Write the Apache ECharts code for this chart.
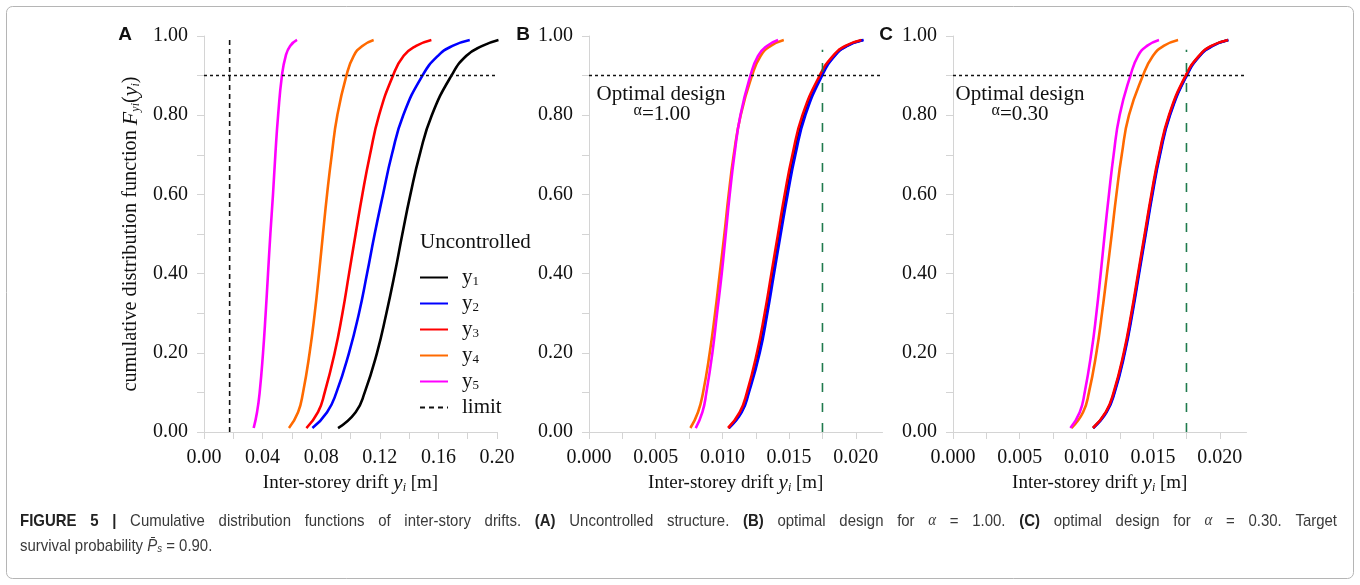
<!DOCTYPE html>
<html lang="en">
<head>
    <meta charset="UTF-8">
    <title>CDF of inter-storey drifts</title>
    <style>
        * { margin: 0; padding: 0; }
        body { background: #fff; }
        #myEcharts { width: 1360px; height: 585px; }
    </style>
</head>
<body>
    <div id="myEcharts"></div>
    <script src="https://cdn.jsdelivr.net/npm/echarts@6/dist/echarts.min.js"></script>
    <script>
        // probability levels the curves were read at
        var probLevels = [0.01, 0.05, 0.10, 0.20, 0.30, 0.40, 0.50, 0.60, 0.70, 0.80, 0.90, 0.95, 0.975, 0.99];

        // (A) uncontrolled
        var driftA_y1 = [0.0915, 0.1035, 0.1097, 0.1181, 0.1245, 0.1302, 0.1354, 0.1409, 0.1472, 0.1555, 0.1689, 0.1791, 0.1900, 0.2010];
        var driftA_y2 = [0.0740, 0.0840, 0.0904, 0.0990, 0.1058, 0.1113, 0.1165, 0.1222, 0.1282, 0.1360, 0.1491, 0.1597, 0.1696, 0.1814];
        var driftA_y3 = [0.0699, 0.0778, 0.0824, 0.0892, 0.0945, 0.0990, 0.1035, 0.1081, 0.1133, 0.1195, 0.1290, 0.1363, 0.1448, 0.1552];
        var driftA_y4 = [0.0580, 0.0642, 0.0676, 0.0721, 0.0756, 0.0785, 0.0812, 0.0840, 0.0872, 0.0910, 0.0972, 0.1022, 0.1081, 0.1158];
        var driftA_y5 = [0.0339, 0.0362, 0.0380, 0.0403, 0.0421, 0.0437, 0.0453, 0.0471, 0.0487, 0.0506, 0.0532, 0.0558, 0.0588, 0.0635];

        // (B) optimal design alpha = 1.00
        var driftB_y1 = [0.01047, 0.01140, 0.01194, 0.01272, 0.01330, 0.01380, 0.01430, 0.01481, 0.01539, 0.01614, 0.01740, 0.01837, 0.01930, 0.02052];
        var driftB_y2 = [0.01049, 0.01145, 0.01199, 0.01280, 0.01337, 0.01387, 0.01437, 0.01489, 0.01547, 0.01622, 0.01747, 0.01842, 0.01937, 0.02059];
        var driftB_y3 = [0.01042, 0.01130, 0.01184, 0.01259, 0.01317, 0.01367, 0.01417, 0.01467, 0.01525, 0.01600, 0.01729, 0.01829, 0.01922, 0.02042];
        var driftB_y4 = [0.00760, 0.00817, 0.00855, 0.00905, 0.00945, 0.00980, 0.01015, 0.01047, 0.01085, 0.01137, 0.01222, 0.01287, 0.01362, 0.01460];
        var driftB_y5 = [0.00800, 0.00850, 0.00880, 0.00925, 0.00960, 0.00995, 0.01025, 0.01055, 0.01090, 0.01135, 0.01210, 0.01267, 0.01334, 0.01417];

        // (C) optimal design alpha = 0.30
        var driftC_y1 = [0.01050, 0.01148, 0.01208, 0.01284, 0.01341, 0.01391, 0.01441, 0.01491, 0.01548, 0.01623, 0.01748, 0.01847, 0.01942, 0.02063];
        var driftC_y2 = [0.01052, 0.01152, 0.01212, 0.01288, 0.01345, 0.01395, 0.01445, 0.01495, 0.01552, 0.01627, 0.01752, 0.01850, 0.01947, 0.02065];
        var driftC_y3 = [0.01049, 0.01145, 0.01204, 0.01280, 0.01337, 0.01387, 0.01437, 0.01487, 0.01544, 0.01619, 0.01744, 0.01844, 0.01937, 0.02061];
        var driftC_y4 = [0.00888, 0.00975, 0.01019, 0.01075, 0.01117, 0.01154, 0.01190, 0.01225, 0.01265, 0.01319, 0.01424, 0.01499, 0.01579, 0.01687];
        var driftC_y5 = [0.00880, 0.00950, 0.00987, 0.01037, 0.01075, 0.01107, 0.01137, 0.01169, 0.01204, 0.01249, 0.01330, 0.01387, 0.01454, 0.01544];

        var targetProb = 0.90;
        var driftLimit = 0.0175;
        var limitLineProb = [0, 0.99];   // black limit line in A
        var optLineProb = [0, 0.965];    // green line in B, C

        // tick positions
        var yTicks = [0, 0.1, 0.2, 0.3, 0.4, 0.5, 0.6, 0.7, 0.8, 0.9, 1.0];
        var yTickLabels = [0, 0.2, 0.4, 0.6, 0.8, 1.0];
        var xTicksA = [0, 0.02, 0.04, 0.06, 0.08, 0.10, 0.12, 0.14, 0.16, 0.18, 0.20];
        var xTickLabelsA = [0, 0.04, 0.08, 0.12, 0.16, 0.20];
        var xTicksBC = [0, 0.0025, 0.005, 0.0075, 0.01, 0.0125, 0.015, 0.0175, 0.02];
        var xTickLabelsBC = [0, 0.005, 0.01, 0.015, 0.02];

        var seriesNames = ['y1', 'y2', 'y3', 'y4', 'y5'];
        var seriesColors = ['#000000', '#0000ff', '#ff0000', '#ff6a00', '#ff00ff'];

        // caption words ('*' bold, '_' italic), line 1 is justified
        var captionWords = ['*FIGURE', '*5', '*|', 'Cumulative', 'distribution', 'functions', 'of', 'inter-story', 'drifts.',
            '*(A)', 'Uncontrolled', 'structure.', '*(B)', 'optimal', 'design', 'for', '_α', '=', '1.00.',
            '*(C)', 'optimal', 'design', 'for', '_α', '=', '0.30.', 'Target'];

        var SERIF = '"Liberation Serif", "DejaVu Serif", serif';
        var SANS = '"Liberation Sans", Arial, sans-serif';
        var CAP_SIZE = 17, CAP_SCALE = 0.88;

        var chartUtil = {
            chart: null,
            init: function () {
                this.chart = echarts.init(document.getElementById('myEcharts'), null, { renderer: 'canvas' });
                this.chart.setOption(this.getOption());
            },
            toPoints: function (xs, ps) {
                var res = [];
                for (var i = 0; i < xs.length; i++) {
                    res.push([xs[i], ps[i]]);
                }
                return res;
            },
            curve: function (name, idx, drifts, color, withLegend) {
                return {
                    name: withLegend ? name : name + '_' + idx,
                    type: 'line',
                    xAxisIndex: idx,
                    yAxisIndex: idx,
                    data: this.toPoints(drifts, probLevels),
                    smooth: 0.5,
                    symbol: 'none',
                    silent: true,
                    lineStyle: { color: color, width: 2.6 },
                    itemStyle: { color: color }
                };
            },
            xAxis: function (idx, max, ticks, labels, digits) {
                return {
                    type: 'value',
                    gridIndex: idx,
                    min: 0,
                    max: max,
                    name: '{n|Inter-storey drift }{i|y}{s|i}{n| [m]}',
                    nameLocation: 'middle',
                    nameGap: 41,
                    nameTextStyle: {
                        rich: {
                            n: { fontFamily: SERIF, fontSize: 19, color: '#111' },
                            i: { fontFamily: SERIF, fontStyle: 'italic', fontSize: 21, color: '#111' },
                            s: { fontFamily: SERIF, fontStyle: 'italic', fontSize: 12, color: '#111', verticalAlign: 'bottom', lineHeight: 8 }
                        }
                    },
                    splitLine: { show: false },
                    axisLine: { lineStyle: { color: '#d4d4d4', width: 1 } },
                    axisTick: { customValues: ticks, length: 7, lineStyle: { color: '#d4d4d4' } },
                    axisLabel: {
                        customValues: labels,
                        margin: 16,
                        fontFamily: SERIF,
                        fontSize: 20,
                        color: '#111',
                        formatter: function (v) { return v.toFixed(digits); }
                    }
                };
            },
            yAxis: function (idx, withName) {
                return {
                    type: 'value',
                    gridIndex: idx,
                    min: 0,
                    max: 1,
                    name: withName ? '{n|cumulative distribution function }{i|F}{s|yi}{n|(}{i|y}{s|i}{n|)}' : '',
                    nameLocation: 'middle',
                    nameRotate: 90,
                    nameGap: 62,
                    nameTextStyle: {
                        rich: {
                            n: { fontFamily: SERIF, fontSize: 20.3, color: '#111' },
                            i: { fontFamily: SERIF, fontStyle: 'italic', fontSize: 22, color: '#111' },
                            s: { fontFamily: SERIF, fontStyle: 'italic', fontSize: 12, color: '#111', verticalAlign: 'bottom', lineHeight: 8 }
                        }
                    },
                    splitLine: { show: false },
                    axisLine: { show: true, lineStyle: { color: '#d4d4d4', width: 1 } },
                    axisTick: { show: true, customValues: yTicks, length: 7, lineStyle: { color: '#d4d4d4' } },
                    axisLabel: {
                        customValues: yTickLabels,
                        margin: 16,
                        fontFamily: SERIF,
                        fontSize: 20,
                        color: '#111',
                        formatter: function (v) { return v.toFixed(2); }
                    }
                };
            },
            hLine: function (idx) {
                // target survival probability line
                return {
                    type: 'line',
                    xAxisIndex: idx,
                    yAxisIndex: idx,
                    data: [],
                    silent: true,
                    markLine: {
                        silent: true,
                        symbol: 'none',
                        label: { show: false },
                        lineStyle: { color: '#111', type: [3, 3], width: 1.4 },
                        data: [{ yAxis: targetProb }]
                    }
                };
            },
            vLine: function (name, idx, color, dash, ps) {
                return {
                    name: name,
                    type: 'line',
                    xAxisIndex: idx,
                    yAxisIndex: idx,
                    data: [[driftLimit, ps[0]], [driftLimit, ps[1]]],
                    symbol: 'none',
                    silent: true,
                    lineStyle: { color: color, type: dash, width: 1.6 },
                    itemStyle: { color: color }
                };
            },
            captionGraphics: function () {
                // justify the first caption line between x=20 and x=1337
                var ctx = document.createElement('canvas').getContext('2d');
                var items = [], total = 0;
                for (var i = 0; i < captionWords.length; i++) {
                    var w = captionWords[i], bold = false, italic = false;
                    if (w.charAt(0) === '*') { bold = true; w = w.slice(1); }
                    if (w.charAt(0) === '_') { italic = true; w = w.slice(1); }
                    var font = italic ? 'italic ' + CAP_SIZE + 'px ' + SERIF
                        : (bold ? 'bold ' : '') + CAP_SIZE + 'px ' + SANS;
                    ctx.font = font;
                    var width = ctx.measureText(w).width * CAP_SCALE;
                    items.push({ text: w, font: font, width: width, bold: bold });
                    total += width;
                }
                var gap = (1337 - 20 - total) / (items.length - 1);
                var x = 20, out = [];
                for (var j = 0; j < items.length; j++) {
                    out.push({
                        type: 'text', x: x, y: 521, scaleX: CAP_SCALE, silent: true,
                        style: { text: items[j].text, font: items[j].font, fill: items[j].bold ? '#222' : '#3a3a3a', verticalAlign: 'middle' }
                    });
                    x += items[j].width + gap;
                }
                out.push({
                    type: 'text', x: 20, y: 546, scaleX: CAP_SCALE, silent: true,
                    style: {
                        text: 'survival probability {i|P̄}{s|s} = 0.90.',
                        font: CAP_SIZE + 'px ' + SANS, fill: '#3a3a3a', verticalAlign: 'middle',
                        rich: {
                            i: { fontFamily: SANS, fontStyle: 'italic', fontSize: CAP_SIZE, fill: '#3a3a3a' },
                            s: { fontFamily: SANS, fontStyle: 'italic', fontSize: 11, fill: '#3a3a3a', verticalAlign: 'bottom', lineHeight: 6 }
                        }
                    }
                });
                return out;
            },
            getOption: function () {
                var gridTop = 36, gridH = 396;
                var series = [];
                var setsA = [driftA_y1, driftA_y2, driftA_y3, driftA_y4, driftA_y5];
                var setsB = [driftB_y1, driftB_y2, driftB_y3, driftB_y4, driftB_y5];
                var setsC = [driftC_y1, driftC_y2, driftC_y3, driftC_y4, driftC_y5];

                series.push(this.hLine(0));
                series.push(this.vLine('limit', 0, '#111', [5, 4], limitLineProb));
                for (var i = 0; i < 5; i++) series.push(this.curve(seriesNames[i], 0, setsA[i], seriesColors[i], true));

                series.push(this.hLine(1));
                for (var j = 0; j < 5; j++) series.push(this.curve(seriesNames[j], 1, setsB[j], seriesColors[j], false));
                series.push(this.vLine('opt_1', 1, '#1f7a4d', [9, 11], optLineProb));

                series.push(this.hLine(2));
                for (var k = 0; k < 5; k++) series.push(this.curve(seriesNames[k], 2, setsC[k], seriesColors[k], false));
                series.push(this.vLine('opt_2', 2, '#1f7a4d', [9, 11], optLineProb));

                var legendRich = {
                    t: { fontFamily: SERIF, fontSize: 21, color: '#111', lineHeight: 22 },
                    s: { fontFamily: SERIF, fontSize: 13, color: '#111', verticalAlign: 'bottom', lineHeight: 6 }
                };
                var letterFont = 'bold 19px ' + SANS;
                var annFont = '21px ' + SERIF;

                var graphics = [
                    {
                        type: 'rect', silent: true,
                        shape: { x: 6.5, y: 6.5, width: 1347, height: 572, r: 6 },
                        style: { fill: 'none', stroke: '#b5b5b5', lineWidth: 1 }
                    },
                    { type: 'text', x: 125, y: 35, style: { text: 'A', font: letterFont, fill: '#111', align: 'center', verticalAlign: 'middle' } },
                    { type: 'text', x: 523, y: 35, style: { text: 'B', font: letterFont, fill: '#111', align: 'center', verticalAlign: 'middle' } },
                    { type: 'text', x: 886, y: 35, style: { text: 'C', font: letterFont, fill: '#111', align: 'center', verticalAlign: 'middle' } },
                    { type: 'text', x: 420, y: 242, style: { text: 'Uncontrolled', font: annFont, fill: '#111', verticalAlign: 'middle' } },
                    { type: 'text', x: 661, y: 94, style: { text: 'Optimal design', font: annFont, fill: '#111', align: 'center', verticalAlign: 'middle' } },
                    { type: 'text', x: 1020, y: 94, style: { text: 'Optimal design', font: annFont, fill: '#111', align: 'center', verticalAlign: 'middle' } }
                ];
                var alphas = [[662, '=1.00'], [1020, '=0.30']];
                for (var a = 0; a < alphas.length; a++) {
                    graphics.push({
                        type: 'text', x: alphas[a][0], y: 114,
                        style: {
                            text: '{a|α}{n|' + alphas[a][1] + '}', align: 'center', verticalAlign: 'middle',
                            rich: {
                                a: { fontFamily: SERIF, fontSize: 16, fill: '#111', verticalAlign: 'top', lineHeight: 10 },
                                n: { fontFamily: SERIF, fontSize: 21, fill: '#111', lineHeight: 22 }
                            }
                        }
                    });
                }
                graphics = graphics.concat(this.captionGraphics());

                return {
                    animation: false,
                    backgroundColor: '#fff',
                    grid: [
                        { left: 204, top: gridTop, width: 293, height: gridH, outerBoundsMode: 'none' },
                        { left: 589, top: gridTop, width: 293.5, height: gridH, outerBoundsMode: 'none' },
                        { left: 953, top: gridTop, width: 293.5, height: gridH, outerBoundsMode: 'none' }
                    ],
                    xAxis: [
                        this.xAxis(0, 0.2, xTicksA, xTickLabelsA, 2),
                        this.xAxis(1, 0.022, xTicksBC, xTickLabelsBC, 3),
                        this.xAxis(2, 0.022, xTicksBC, xTickLabelsBC, 3)
                    ],
                    yAxis: [this.yAxis(0, true), this.yAxis(1, false), this.yAxis(2, false)],
                    legend: {
                        orient: 'vertical',
                        left: 414,
                        top: 262,
                        itemWidth: 28,
                        itemHeight: 14,
                        itemGap: 4.5,
                        selectedMode: false,
                        itemStyle: { opacity: 0 },
                        data: ['y1', 'y2', 'y3', 'y4', 'y5', 'limit'],
                        formatter: function (name) {
                            if (name === 'limit') return '{t|limit}';
                            return '{t|y}{s|' + name.slice(1) + '}';
                        },
                        textStyle: { rich: legendRich, padding: [0, 0, 0, 9] }
                    },
                    graphic: graphics,
                    series: series
                };
            }
        };

        chartUtil.init();
    </script>
</body>
</html>
